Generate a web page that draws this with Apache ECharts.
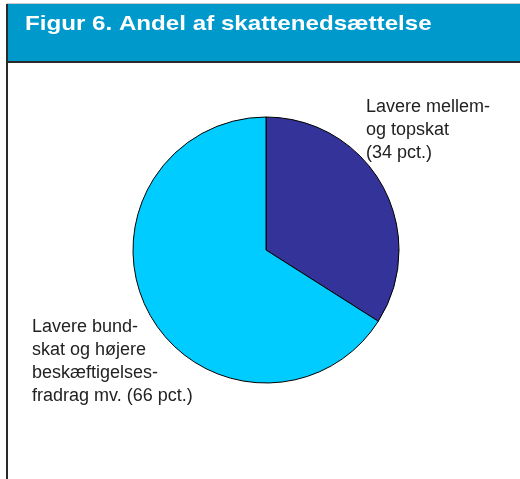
<!DOCTYPE html>
<html>
<head>
<meta charset="utf-8">
<script src="https://cdn.jsdelivr.net/npm/echarts@6/dist/echarts.min.js"></script>
<style>
  html, body { margin: 0; padding: 0; background: #fff; }
  #chart { width: 520px; height: 479px; }
</style>
</head>
<body>
<div id="chart"></div>
<script>
// data
const titleText = 'Figur 6. Andel af skattenedsættelse';
const categories = ['Lavere mellem- og topskat', 'Lavere bundskat og højere beskæftigelsesfradrag mv.'];
const shares = [34, 66];
const labelTexts = [
  'Lavere mellem-\nog topskat\n(34 pct.)',
  'Lavere bund-\nskat og højere\nbeskæftigelses-\nfradrag mv. (66 pct.)'
];
const colors = ['#333399', '#00CCFF'];

// where the labels sit (top-left corner)
const labelPos = [[366, 96], [32, 316]];

const chart = echarts.init(document.getElementById('chart'));

chart.setOption({
  animation: false,
  graphic: [
    { type: 'rect', shape: { x: 7, y: 3, width: 513, height: 1 }, style: { fill: '#c8c8c8' } },
    { type: 'rect', shape: { x: 7, y: 4, width: 513, height: 58 }, style: { fill: '#0099CC' } },
    { type: 'rect', shape: { x: 7, y: 61, width: 513, height: 2 }, style: { fill: '#2a2a2a' } },
    { type: 'rect', shape: { x: 6, y: 4, width: 2, height: 475 }, style: { fill: '#2a2a2a' } },
    {
      type: 'text', x: 25, y: 14, scaleX: 1.15,
      style: {
        text: titleText, fill: '#fff',
        font: 'bold 21px "Liberation Sans", Arial, sans-serif'
      }
    }
  ],
  series: [{
    type: 'pie',
    center: [266, 250],
    radius: 133,
    startAngle: 90,
    clockwise: true,
    silent: true,
    itemStyle: { borderColor: '#000', borderWidth: 1 },
    label: {
      show: true,
      position: 'outside',
      formatter: p => labelTexts[p.dataIndex],
      color: '#222',
      fontFamily: '"Liberation Sans", Arial, sans-serif',
      fontSize: 18,
      lineHeight: 23,
      align: 'left',
      overflow: 'none'
    },
    labelLine: { show: false },
    labelLayout: p => ({
      x: labelPos[p.dataIndex][0],
      y: labelPos[p.dataIndex][1],
      align: 'left',
      verticalAlign: 'top'
    }),
    data: categories.map((c, i) => ({ name: c, value: shares[i], itemStyle: { color: colors[i] } }))
  }]
});
</script>
</body>
</html>
